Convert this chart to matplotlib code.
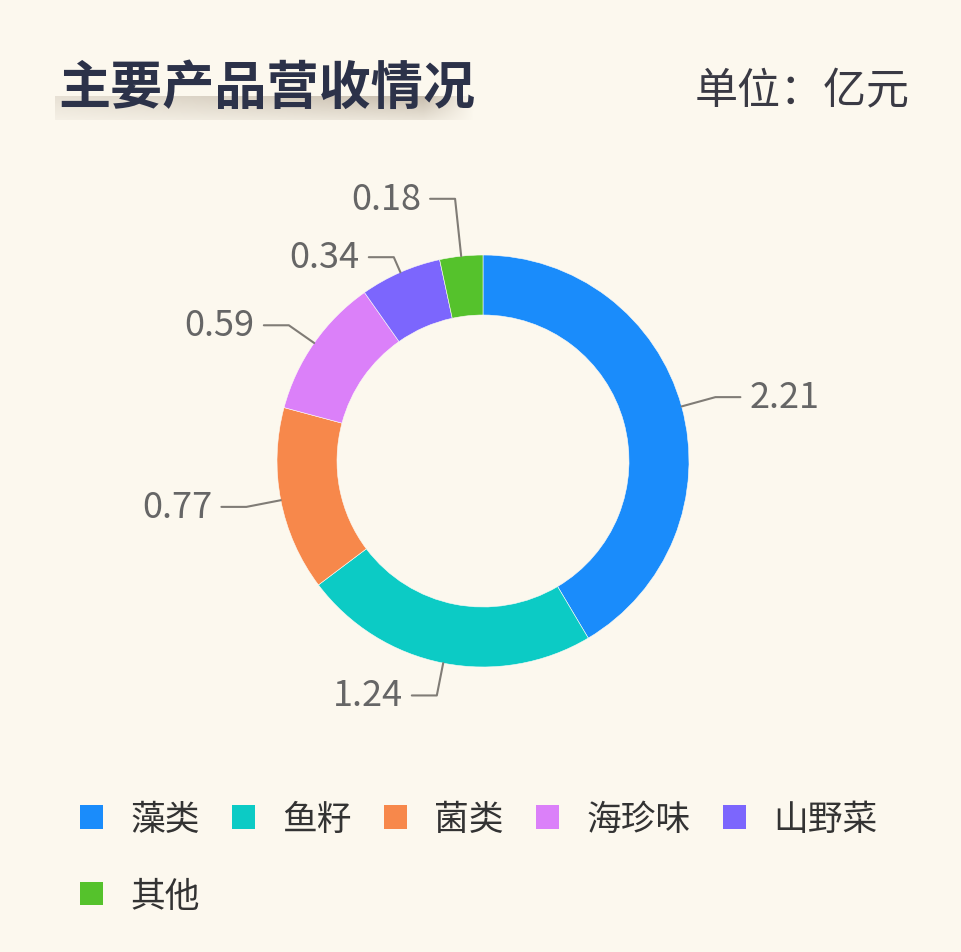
import numpy as np
import matplotlib.pyplot as plt

plt.rcParams['font.family'] = ['Noto Sans CJK SC', 'DejaVu Sans']

# data
categories = ['藻类', '鱼籽', '菌类', '海珍味', '山野菜', '其他']
revenue = [2.21, 1.24, 0.77, 0.59, 0.34, 0.18]
colors = ['#1a8cfb', '#0ccbc5', '#f7884b', '#db80f9', '#7c66fd', '#55c22c']
label_text = ['2.21', '1.24', '0.77', '0.59', '0.34', '0.18']

# leader elbow radius per label (layout only)
elbow_r = [1.17, 1.16, 1.17, 1.15, 1.08, 1.28]

bg = '#fcf8ee'
W, H = 962, 953
S = 206.0          # pixels per unit radius
cx, cy = 483, 462  # donut centre in pixels

fig = plt.figure(figsize=(W / 100, H / 100), dpi=100, facecolor=bg)
ax = fig.add_axes([0, 0, 1, 1])
ax.set_facecolor(bg)

wedges, _ = ax.pie(revenue, colors=colors, startangle=90, counterclock=False,
                   radius=1, wedgeprops=dict(width=60 / S, edgecolor='#fdfbf6', linewidth=0.4))
ax.set_xlim(-cx / S, (W - cx) / S)
ax.set_ylim(-(H - cy) / S, cy / S)
ax.set_aspect('auto')
ax.axis('off')

hlen = 25 / S
gap = 9 / S
for w, txt, er in zip(wedges, label_text, elbow_r):
    ang = np.deg2rad((w.theta1 + w.theta2) / 2)
    x0, y0 = np.cos(ang), np.sin(ang)
    x1, y1 = er * np.cos(ang), er * np.sin(ang)
    side = 1 if x0 > 0 else -1
    x2 = x1 + side * hlen
    ax.plot([x0, x1, x2], [y0, y1, y1], color='#807c76', lw=1.5, solid_capstyle='round')
    ax.text(x2 + side * gap, y1, txt, ha='left' if side > 0 else 'right', va='center',
            fontsize=26, color='#666666')

# title with shaded underline
grad = np.zeros((20, 200, 4))
xs = np.linspace(0, 1, 200)
hprof = np.clip(0.35 + 0.6 * xs, 0, 1) * np.clip((1 - xs) / 0.12, 0, 1)
vprof = np.linspace(1.0, 0.35, 20)[:, None]
grad[..., 0] = 0.70
grad[..., 1] = 0.65
grad[..., 2] = 0.58
grad[..., 3] = 0.8 * hprof[None, :] * vprof
gax = fig.add_axes([55 / W, 1 - 121 / H, 420 / W, 24 / H])
gax.imshow(grad, aspect='auto', interpolation='bilinear')
gax.axis('off')

fig.text(58 / W, 1 - 88 / H, '主要产品营收情况', fontsize=37.5, fontweight='bold',
         color='#2c3249', ha='left', va='center', zorder=5)
fig.text(910 / W, 1 - 92 / H, '单位：亿元', fontsize=31, color='#3a3a44',
         ha='right', va='center')

# matplotlib fills legend columns first, so reorder to read row by row
order = [0, 5, 1, 2, 3, 4]
leg = ax.legend([wedges[i] for i in order], [categories[i] for i in order], ncol=5,
                loc='upper left',
                bbox_to_anchor=(80 / W, 1 - 803 / H), bbox_transform=fig.transFigure,
                frameon=False, fontsize=25, handlelength=0.66, handleheight=0.66,
                handletextpad=0.78, columnspacing=0.94, labelspacing=1.2,
                borderpad=0, borderaxespad=0)
for t in leg.get_texts():
    t.set_color('#333333')
for h in leg.legend_handles:
    h.set_edgecolor('none')

fig.savefig('out.png', dpi=100, facecolor=bg)
